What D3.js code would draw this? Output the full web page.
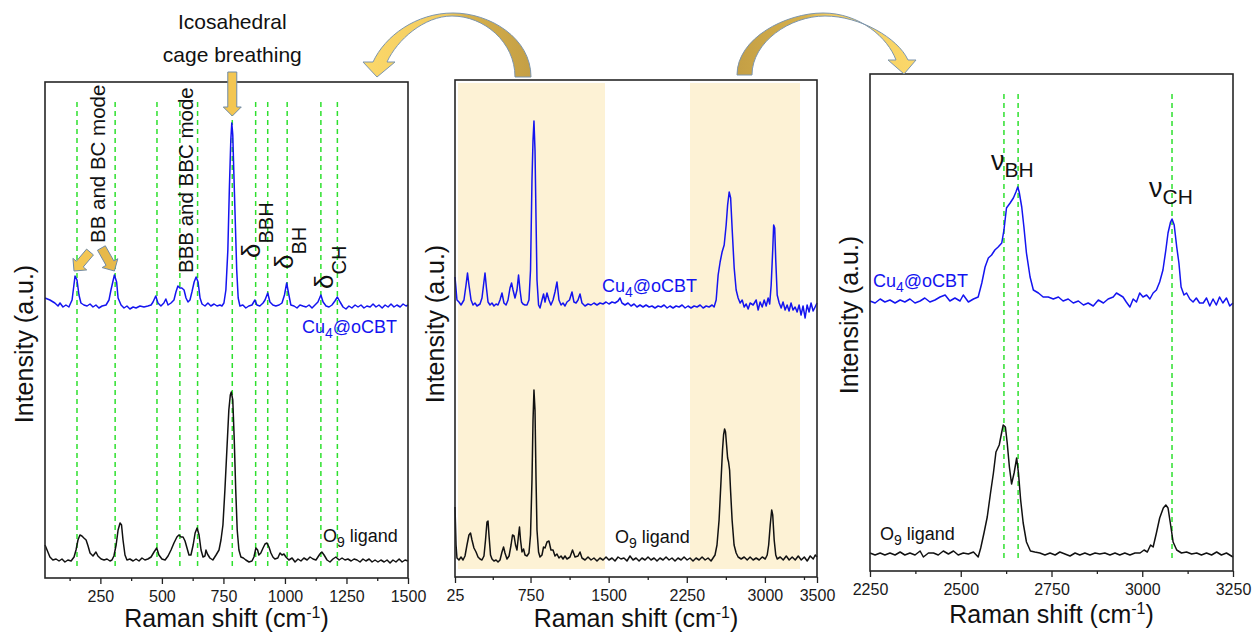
<!DOCTYPE html>
<html>
<head>
<meta charset="utf-8">
<script src="https://cdn.jsdelivr.net/npm/d3@7"></script>
<style>
  body { margin: 0; background: #fff; }
  svg { display: block; font-family: "Liberation Sans", Arial, sans-serif; }
</style>
</head>
<body>
<svg id="fig" width="1255" height="634"></svg>
<script>
// ---- Raman spectra, [shift (cm-1), intensity (a.u.)] ----
// 25-1500 cm-1 window
const lowCu4 = [[25,280],[45,278],[65,275],[78,272],[86,275],[98,271],[110,273],[122,271],[135,278],[147,302],[155,298],[163,283],[171,275],[183,273],[196,272],[208,274],[220,271],[232,273],[244,270],[257,272],[273,273],[285,278],[293,288],[307,303],[316,296],[322,280],[334,273],[346,270],[358,272],[370,269],[383,271],[395,270],[411,272],[427,271],[443,272],[456,273],[464,276],[475,282],[484,275],[496,272],[508,275],[516,279],[525,273],[537,275],[549,278],[557,286],[565,292],[573,290],[581,290],[590,288],[598,280],[606,276],[614,278],[622,286],[631,296],[639,301],[647,296],[655,280],[663,274],[675,272],[687,275],[699,272],[712,274],[724,272],[736,273],[744,272],[752,275],[760,288],[768,328],[774,388],[780,438],[784,455],[788,443],[792,408],[798,358],[804,308],[810,280],[817,272],[829,273],[841,270],[853,272],[866,273],[878,278],[886,273],[898,272],[911,275],[919,278],[930,285],[939,276],[951,273],[963,272],[976,273],[988,275],[998,283],[1007,295],[1016,283],[1024,273],[1037,272],[1049,270],[1061,273],[1073,272],[1086,271],[1098,273],[1110,270],[1122,273],[1134,276],[1146,283],[1155,276],[1167,272],[1179,271],[1191,273],[1203,277],[1213,281],[1224,276],[1236,271],[1248,269],[1260,272],[1272,270],[1285,273],[1297,271],[1309,273],[1321,270],[1333,272],[1346,271],[1358,274],[1370,271],[1382,273],[1395,270],[1407,273],[1419,271],[1431,274],[1443,271],[1455,273],[1468,271],[1480,274],[1492,272],[1500,273]];
const lowO9 = [[25,33],[45,21],[57,18],[70,19],[82,17],[94,19],[106,16],[118,18],[131,17],[143,21],[151,28],[159,38],[167,43],[175,42],[183,40],[192,38],[200,32],[208,25],[220,22],[232,26],[240,22],[253,19],[265,18],[277,19],[289,17],[297,18],[305,22],[314,33],[322,48],[330,55],[336,53],[342,38],[350,23],[358,18],[370,19],[383,17],[395,19],[407,17],[419,20],[431,18],[443,19],[456,21],[468,26],[479,30],[488,23],[500,19],[513,18],[525,22],[537,28],[549,35],[561,41],[569,43],[578,41],[586,41],[594,37],[602,30],[610,23],[618,23],[627,33],[635,45],[643,50],[651,43],[659,28],[667,21],[675,22],[679,28],[685,24],[695,20],[707,18],[720,23],[732,28],[740,38],[748,53],[756,88],[764,128],[772,168],[778,183],[782,186],[788,178],[794,138],[800,88],[806,48],[813,28],[821,21],[831,20],[841,18],[854,16],[866,17],[874,21],[882,30],[889,28],[894,23],[902,25],[911,30],[919,34],[927,35],[935,31],[943,25],[951,21],[959,19],[971,20],[980,25],[988,23],[996,24],[1004,21],[1016,18],[1029,20],[1041,16],[1053,19],[1065,17],[1077,20],[1090,18],[1102,21],[1114,19],[1126,18],[1134,21],[1142,24],[1150,26],[1159,23],[1171,18],[1183,16],[1195,19],[1207,21],[1220,18],[1232,20],[1244,18],[1256,19],[1269,17],[1281,19],[1293,18],[1305,16],[1317,19],[1329,17],[1342,19],[1354,16],[1366,18],[1378,16],[1390,18],[1403,16],[1415,18],[1427,15],[1439,18],[1451,16],[1464,19],[1476,16],[1488,18],[1500,17]];

// 25-3500 cm-1 survey
const fullCu4 = [[25,300],[44,277],[63,275],[83,272],[111,277],[131,292],[145,304],[159,292],[179,277],[198,272],[217,274],[236,271],[265,273],[284,279],[299,292],[313,304],[327,289],[342,275],[361,272],[380,274],[399,271],[419,273],[438,272],[457,277],[476,284],[495,274],[515,272],[534,277],[553,289],[568,294],[582,287],[601,279],[620,287],[635,302],[649,287],[664,275],[678,273],[697,272],[716,272],[735,277],[750,307],[764,397],[774,437],[783,456],[793,427],[803,357],[812,297],[827,272],[841,269],[860,277],[875,283],[889,275],[908,284],[927,277],[946,272],[966,277],[985,285],[1004,295],[1023,277],[1043,272],[1062,274],[1081,271],[1100,275],[1124,277],[1148,285],[1167,275],[1187,274],[1206,277],[1225,283],[1244,274],[1273,271],[1302,273],[1331,272],[1359,274],[1388,272],[1417,274],[1446,273],[1475,275],[1503,273],[1532,275],[1561,274],[1590,276],[1609,279],[1628,274],[1657,272],[1686,274],[1715,271],[1744,273],[1772,270],[1801,272],[1830,270],[1859,272],[1888,270],[1916,271],[1945,269],[1974,271],[2003,270],[2032,272],[2061,269],[2089,271],[2118,269],[2147,271],[2176,270],[2205,272],[2234,269],[2262,271],[2291,269],[2320,271],[2349,270],[2378,272],[2407,269],[2436,271],[2464,270],[2493,272],[2512,270],[2532,277],[2551,302],[2570,315],[2589,325],[2609,332],[2628,352],[2642,372],[2657,385],[2671,379],[2686,347],[2705,309],[2724,287],[2743,279],[2762,274],[2782,277],[2801,270],[2820,273],[2839,268],[2858,274],[2887,272],[2916,277],[2935,267],[2954,275],[2974,270],[2993,277],[3012,271],[3031,279],[3046,273],[3060,292],[3075,327],[3084,352],[3094,349],[3104,317],[3118,282],[3137,274],[3156,269],[3174,275],[3194,267],[3213,272],[3232,266],[3251,274],[3270,267],[3290,270],[3309,265],[3328,272],[3347,262],[3366,271],[3386,259],[3405,272],[3424,265],[3443,274],[3463,266],[3482,270],[3500,274]];
const fullO9 = [[25,70],[35,32],[44,19],[63,17],[83,20],[102,17],[121,21],[140,32],[159,42],[174,44],[188,37],[207,29],[227,25],[246,20],[265,18],[284,17],[303,21],[318,37],[332,55],[342,56],[351,42],[366,22],[380,18],[399,16],[419,17],[438,15],[457,17],[476,25],[491,30],[505,24],[524,18],[544,21],[563,32],[577,42],[592,41],[606,32],[620,27],[635,42],[644,50],[654,37],[668,25],[683,28],[697,22],[716,21],[735,24],[750,42],[764,97],[774,157],[783,187],[793,167],[803,97],[812,47],[827,25],[841,20],[860,22],[875,30],[889,29],[908,35],[927,36],[946,27],[966,27],[985,21],[1004,23],[1023,19],[1043,21],[1062,18],[1081,21],[1100,18],[1129,20],[1153,27],[1177,20],[1206,21],[1225,25],[1244,19],[1273,17],[1302,20],[1331,17],[1359,19],[1388,16],[1417,19],[1446,17],[1475,20],[1503,17],[1532,19],[1561,16],[1590,20],[1618,18],[1647,19],[1676,16],[1705,21],[1734,17],[1763,19],[1792,16],[1820,19],[1849,17],[1878,20],[1907,17],[1936,19],[1964,16],[1993,19],[2022,17],[2051,20],[2080,17],[2108,19],[2137,16],[2166,19],[2195,17],[2224,20],[2253,17],[2281,19],[2310,16],[2339,19],[2368,17],[2397,20],[2426,17],[2454,19],[2483,16],[2502,19],[2521,22],[2540,32],[2560,57],[2579,97],[2593,127],[2603,142],[2613,148],[2622,145],[2632,132],[2642,119],[2651,115],[2661,107],[2670,87],[2685,57],[2704,32],[2724,24],[2743,20],[2772,18],[2801,20],[2830,17],[2858,20],[2887,17],[2916,19],[2945,17],[2974,20],[3003,18],[3022,22],[3036,32],[3051,52],[3065,67],[3075,62],[3089,37],[3104,22],[3118,18],[3147,20],[3176,17],[3205,21],[3233,17],[3262,20],[3291,17],[3320,21],[3349,17],[3378,20],[3406,16],[3435,21],[3464,18],[3483,22],[3500,20]];

// 2250-3250 cm-1 window (B-H and C-H stretching)
const highCu4 = [[2250,270],[2264,268],[2278,272],[2291,269],[2305,271],[2319,268],[2333,271],[2346,269],[2360,272],[2374,268],[2388,270],[2401,273],[2415,269],[2429,271],[2443,274],[2457,276],[2470,270],[2484,273],[2498,270],[2507,276],[2521,269],[2535,272],[2548,274],[2558,288],[2567,304],[2576,313],[2585,316],[2594,321],[2603,324],[2613,328],[2619,341],[2626,363],[2636,368],[2645,373],[2652,379],[2657,384],[2661,379],[2668,364],[2674,344],[2681,318],[2691,294],[2700,281],[2714,278],[2727,274],[2741,274],[2755,272],[2769,274],[2782,270],[2796,272],[2810,268],[2824,270],[2838,266],[2851,268],[2865,265],[2879,271],[2893,268],[2906,272],[2920,274],[2929,278],[2938,276],[2947,274],[2956,269],[2966,264],[2975,272],[2984,269],[2993,278],[3002,274],[3012,276],[3021,272],[3030,278],[3039,281],[3048,289],[3057,301],[3065,321],[3071,338],[3078,349],[3082,352],[3088,346],[3095,324],[3101,308],[3107,284],[3115,276],[3122,278],[3131,272],[3140,269],[3149,273],[3158,268],[3168,268],[3177,273],[3186,265],[3195,272],[3204,266],[3213,274],[3222,268],[3232,273],[3241,265],[3250,268]];
const highO9 = [[2250,18],[2264,16],[2278,18],[2291,16],[2305,18],[2319,16],[2333,19],[2346,16],[2360,18],[2374,16],[2388,20],[2397,14],[2411,18],[2425,18],[2438,16],[2452,20],[2466,17],[2480,20],[2493,16],[2507,18],[2521,17],[2535,19],[2548,14],[2555,23],[2564,38],[2573,54],[2582,78],[2590,98],[2597,119],[2606,126],[2613,139],[2617,146],[2623,144],[2628,128],[2634,104],[2640,87],[2647,98],[2654,113],[2659,98],[2665,71],[2672,48],[2681,29],[2692,20],[2704,19],[2718,18],[2732,16],[2746,18],[2760,16],[2773,19],[2787,17],[2801,15],[2815,18],[2828,16],[2842,18],[2856,16],[2870,18],[2883,17],[2897,18],[2911,16],[2925,18],[2938,16],[2952,18],[2966,16],[2980,18],[2994,18],[3005,21],[3014,19],[3023,26],[3030,24],[3039,38],[3048,53],[3058,63],[3065,66],[3071,63],[3079,44],[3085,29],[3095,21],[3108,18],[3122,19],[3136,17],[3150,18],[3163,16],[3177,18],[3191,16],[3205,19],[3218,16],[3232,18],[3250,14]];

// ---- band assignments and axis ticks ----
const lowModeLines = [155, 310, 480, 573, 645, 786, 881, 930, 1009, 1146, 1213];
const highModeLines = [2619, 2658, 3082];
const fullBands = [[54, 1465], [2281, 3337]];

const lowTicks = [250, 500, 750, 1000, 1250, 1500];
const lowMinor = [125, 375, 625, 875, 1125, 1375];
const fullTicks = [25, 750, 1500, 2250, 3000, 3500];
const fullMinor = [387.5, 1125, 1875, 2625, 3375];
const highTicks = [2250, 2500, 2750, 3000, 3250];
const highMinor = [2375, 2625, 2875, 3125];

const xTitle = "Raman shift (cm";
const yTitle = "Intensity (a.u.)";

// ---- drawing ----
const svg = d3.select("#fig");
const defs = svg.append("defs");
const FONT = "'Liberation Sans', Arial, sans-serif";
const BLUE = "#1414f0";
const GREEN = "#2ee02e";

const panels = [
  { x0: 45,  x1: 408,  y0: 82, y1: 578, domain: [25, 1500],   major: lowTicks,  minor: lowMinor,
    cu4: lowCu4,  o9: lowO9,  lines: lowModeLines,  bands: [],
    cu4Label: [302, 333], o9Label: [323, 542], yTitleX: 33, yTitleY: 344 },
  { x0: 455, x1: 817,  y0: 80, y1: 577, domain: [25, 3500],   major: fullTicks, minor: fullMinor,
    cu4: fullCu4, o9: fullO9, lines: [],            bands: fullBands,
    cu4Label: [602, 292], o9Label: [615, 543], yTitleX: 444, yTitleY: 324 },
  { x0: 870, x1: 1233, y0: 74, y1: 571, domain: [2250, 3250], major: highTicks, minor: highMinor,
    cu4: highCu4, o9: highO9, lines: highModeLines, bands: [],
    cu4Label: [873, 287], o9Label: [880, 540], yTitleX: 858, yTitleY: 315 }
];

function sampleLabel(g, pos, main, sub, rest, color) {
  const t = g.append("text").attr("x", pos[0]).attr("y", pos[1])
    .attr("font-family", FONT).attr("font-size", 18).attr("fill", color);
  t.append("tspan").text(main);
  t.append("tspan").attr("font-size", 14).attr("dy", 5).text(sub);
  t.append("tspan").attr("dy", -5).text(rest);
}

panels.forEach(p => {
  const g = svg.append("g");
  const x = d3.scaleLinear().domain(p.domain).range([p.x0, p.x1]);
  const y = d3.scaleLinear().domain([0, p.y1 - p.y0]).range([p.y1, p.y0]);
  p.x = x; p.y = y;

  g.selectAll("rect.band").data(p.bands).join("rect").attr("class", "band")
    .attr("x", d => x(d[0])).attr("width", d => x(d[1]) - x(d[0]))
    .attr("y", p.y0 + 3).attr("height", p.y1 - p.y0 - 11)
    .attr("fill", "#fdf2d5");

  g.selectAll("line.mode").data(p.lines).join("line").attr("class", "mode")
    .attr("x1", d => x(d)).attr("x2", d => x(d))
    .attr("y1", p.y0 + 20).attr("y2", p.y1 - 10)
    .attr("stroke", GREEN).attr("stroke-width", 1.5).attr("stroke-dasharray", "5,4");

  const line = d3.line().x(d => x(d[0])).y(d => y(d[1]));
  g.append("path").datum(p.o9).attr("d", line)
    .attr("fill", "none").attr("stroke", "#111").attr("stroke-width", 1.5).attr("stroke-linejoin", "round");
  g.append("path").datum(p.cu4).attr("d", line)
    .attr("fill", "none").attr("stroke", BLUE).attr("stroke-width", 1.5).attr("stroke-linejoin", "round");

  g.append("rect").attr("x", p.x0).attr("y", p.y0)
    .attr("width", p.x1 - p.x0).attr("height", p.y1 - p.y0)
    .attr("fill", "none").attr("stroke", "#262626").attr("stroke-width", 1.6);

  const ax = g.append("g").attr("transform", `translate(0,${p.y1})`)
    .call(d3.axisBottom(x).tickValues(p.major).tickSize(6).tickFormat(d3.format("d")));
  ax.select(".domain").remove();
  ax.attr("font-family", FONT).attr("font-size", 16).attr("color", "#222");
  ax.selectAll(".tick line").attr("stroke-width", 1.3);
  ax.selectAll(".tick text").attr("y", 24).attr("dy", 0).attr("fill", "#1a1a1a");

  const mi = g.append("g").attr("transform", `translate(0,${p.y1})`)
    .call(d3.axisBottom(x).tickValues(p.minor).tickSize(3).tickFormat(""));
  mi.select(".domain").remove();
  mi.attr("color", "#222");
  mi.selectAll(".tick line").attr("stroke-width", 1.3);

  const xt = g.append("text").attr("x", (p.x0 + p.x1) / 2).attr("y", Math.min(p.y1 + 52, 627))
    .attr("text-anchor", "middle").attr("font-family", FONT).attr("font-size", 25).attr("fill", "#111");
  xt.append("tspan").text(xTitle);
  xt.append("tspan").attr("font-size", 16).attr("dy", -9).text("-1");
  xt.append("tspan").attr("dy", 9).text(")");

  g.append("text").attr("transform", `translate(${p.yTitleX},${p.yTitleY}) rotate(-90)`)
    .attr("text-anchor", "middle").attr("font-family", FONT).attr("font-size", 25).attr("fill", "#111")
    .text(yTitle);

  sampleLabel(g, p.cu4Label, "Cu", "4", "@oCBT", BLUE);
  sampleLabel(g, p.o9Label, "O", "9", " ligand", "#111");
});

// ---- annotations on the low-frequency window ----
const L = panels[0];
const ann = svg.append("g").attr("font-family", FONT).attr("fill", "#111");

function blockArrow(tail, tip, w, hw, hl) {
  const dx = tip[0] - tail[0], dy = tip[1] - tail[1];
  const len = Math.hypot(dx, dy), ux = dx / len, uy = dy / len, px = -uy, py = ux;
  const nx = tip[0] - ux * hl, ny = tip[1] - uy * hl;
  const pts = [
    [tail[0] + px * w / 2, tail[1] + py * w / 2],
    [nx + px * w / 2, ny + py * w / 2],
    [nx + px * hw / 2, ny + py * hw / 2],
    tip,
    [nx - px * hw / 2, ny - py * hw / 2],
    [nx - px * w / 2, ny - py * w / 2],
    [tail[0] - px * w / 2, tail[1] - py * w / 2]
  ];
  return "M" + pts.map(q => q.join(",")).join("L") + "Z";
}

const arrowFill = "#f3c652", arrowEdge = "#6f8aa6";
const cageX = L.x(786);
ann.append("path").attr("d", blockArrow([cageX, 72], [cageX, 116], 9, 18, 9))
  .attr("fill", arrowFill).attr("stroke", arrowEdge).attr("stroke-width", 1);
ann.append("path").attr("d", blockArrow([L.x(147) + 15, 252], [L.x(147) - 1, 271], 9, 18, 9))
  .attr("fill", arrowFill).attr("stroke", arrowEdge).attr("stroke-width", 1);
ann.append("path").attr("d", blockArrow([L.x(307) - 13, 248], [L.x(307), 271], 9, 18, 9))
  .attr("fill", "#e7b94a").attr("stroke", arrowEdge).attr("stroke-width", 1);

ann.append("text").attr("x", cageX).attr("y", 29).attr("text-anchor", "middle")
  .attr("font-size", 21).text("Icosahedral");
ann.append("text").attr("x", cageX).attr("y", 62).attr("text-anchor", "middle")
  .attr("font-size", 21).text("cage breathing");

ann.append("text").attr("transform", "translate(105,243) rotate(-90)")
  .attr("font-size", 20.5).text("BB and BC mode");
ann.append("text").attr("transform", "translate(193,273) rotate(-90)")
  .attr("font-size", 20.5).text("BBB and BBC mode");

function deltaLabel(bx, by, sub) {
  const t = ann.append("text").attr("transform", `translate(${bx},${by}) rotate(-90)`);
  t.append("tspan").attr("font-size", 26).text("δ");
  t.append("tspan").attr("font-size", 20).attr("dy", 13).text(sub);
}
deltaLabel(260, 258, "BBH");
deltaLabel(293, 269, "BH");
deltaLabel(333, 289, "CH");

// ---- stretching labels on the high-frequency window ----
function nuLabel(x0, y0, sub) {
  const t = ann.append("text").attr("x", x0).attr("y", y0);
  t.append("tspan").attr("font-size", 27).text("ν");
  t.append("tspan").attr("font-size", 21).attr("dy", 7).text(sub);
}
nuLabel(991, 170, "BH");
nuLabel(1149, 197, "CH");

// ---- curved connector arrows between windows ----
function grad(id, xa, xb, stops) {
  const lg = defs.append("linearGradient").attr("id", id)
    .attr("gradientUnits", "userSpaceOnUse").attr("x1", xa).attr("x2", xb).attr("y1", 0).attr("y2", 0);
  stops.forEach(s => lg.append("stop").attr("offset", s[0]).attr("stop-color", s[1]));
}
grad("goldLeft", 363, 531, [[0, "#fbd86a"], [0.5, "#f2cb5e"], [0.62, "#d6b04b"], [1, "#c49f45"]]);
grad("goldRight", 737, 916, [[0, "#c49f45"], [0.38, "#d6b04b"], [0.5, "#f2cb5e"], [1, "#fbd86a"]]);

svg.append("path")
  .attr("d", "M531,77 C531,38 490,13 453,13 C416,13 385,36 373,62 L363,62 L377,77 L395,62 L387,62 " +
             "C397,40 424,16 452,16 C484,16 515,42 515,77 Z")
  .attr("fill", "url(#goldLeft)").attr("stroke", "#7c95ae").attr("stroke-width", 1);
svg.append("path")
  .attr("d", "M737,75 C737,38 786,13 823,13 C860,13 888,38 896,60 L888,60 L904,74 L916,60 L908,60 " +
             "C898,38 860,16 825,16 C790,16 752,42 752,75 Z")
  .attr("fill", "url(#goldRight)").attr("stroke", "#7c95ae").attr("stroke-width", 1);
</script>
</body>
</html>
